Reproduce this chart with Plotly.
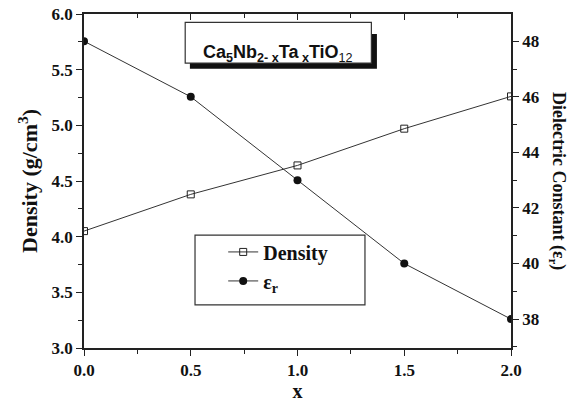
import plotly.graph_objects as go

x_vals = [0.0, 0.5, 1.0, 1.5, 2.0]
density = [4.05, 4.38, 4.64, 4.97, 5.26]
epsilon_r = [48, 46, 43, 40, 38]

x_ticks = [0.0, 0.5, 1.0, 1.5, 2.0]
y_ticks = [3.0, 3.5, 4.0, 4.5, 5.0, 5.5, 6.0]
y2_ticks = [38, 40, 42, 44, 46, 48]

SERIF = "Liberation Serif, Times New Roman, serif"
SANS = "Liberation Sans, Arial, sans-serif"
INK = "#111111"

fig = go.Figure()
fig.add_trace(go.Scatter(
    x=x_vals, y=density, name="<b>Density</b>", mode="lines+markers",
    line=dict(color="#333333", width=1),
    marker=dict(symbol="square-open", size=7, color="#222222", line=dict(width=1)),
))
fig.add_trace(go.Scatter(
    x=x_vals, y=epsilon_r, name="<b>ε<sub>r</sub></b>", mode="lines+markers", yaxis="y2",
    line=dict(color="#333333", width=1),
    marker=dict(symbol="circle", size=8, color=INK),
))
# dummy trace so the top axis is drawn
fig.add_trace(go.Scatter(x=[None], y=[None], xaxis="x2", showlegend=False, hoverinfo="skip"))

axis_common = dict(showline=True, linecolor="#222222", linewidth=1.5, showgrid=False,
                   zeroline=False, automargin=False, ticklabeloverflow="allow",
                   tickfont=dict(family=SERIF, size=17, color=INK),
                   ticklen=6, tickwidth=1.2, tickcolor="#222222")

def bold(vals, fmt):
    return ["<b>" + fmt.format(v) + "</b>" for v in vals]

# page has an 8px body margin; figure is sized/margined to compensate
fig.update_layout(
    width=575, height=394,
    margin=dict(l=76, r=72, t=6, b=54),
    paper_bgcolor="white", plot_bgcolor="white",
    showlegend=True,
    legend=dict(x=0.326, y=0.346, xanchor="left", yanchor="top",
                borderwidth=0, bgcolor="rgba(0,0,0,0)",
                font=dict(family=SERIF, size=20, color=INK),
                tracegroupgap=0),
    xaxis=dict(range=[0, 2], tickvals=x_ticks, ticktext=bold(x_ticks, "{:.1f}"),
               ticks="outside", minor=dict(dtick=0.25, ticks="outside", ticklen=4, tickcolor="#222222"),
               title=dict(text="<b>x</b>", font=dict(family=SERIF, size=20, color=INK), standoff=4),
               **axis_common),
    xaxis2=dict(range=[0, 2], overlaying="x", side="top", showticklabels=False,
                tickvals=x_ticks, ticks="inside",
                minor=dict(dtick=0.25, ticks="inside", ticklen=4, tickcolor="#222222"),
                **axis_common),
    yaxis=dict(range=[3.0, 6.0], tickvals=y_ticks, ticktext=bold(y_ticks, "{:.1f}"),
               ticks="outside", minor=dict(dtick=0.25, tick0=0, ticks="outside", ticklen=4, tickcolor="#222222"),
               title=dict(text="<b>Density (g/cm<sup>3</sup>)</b>", font=dict(family=SERIF, size=22, color=INK), standoff=8),
               **axis_common),
    yaxis2=dict(range=[36.96, 48.98], overlaying="y", side="right",
                tickvals=y2_ticks, ticktext=bold(y2_ticks, "{}"),
                ticks="outside", minor=dict(dtick=1, tick0=0, ticks="outside", ticklen=4, tickcolor="#222222"),
                **axis_common),
)

# right axis title (reads top-to-bottom)
fig.add_annotation(x=1.0, xref="paper", xanchor="center", xshift=47, y=0.5, yref="paper",
                   text="<b>Dielectric Constant (ε<sub>r</sub>)</b>", textangle=90, showarrow=False,
                   font=dict(family=SERIF, size=18, color=INK))

# legend frame
fig.add_shape(type="rect", xref="paper", yref="paper", x0=0.26, x1=0.658, y0=0.129, y1=0.338,
              fillcolor="white", line=dict(color="#333333", width=1.2), layer="below")

# formula box with drop shadow
fig.add_shape(type="rect", xref="paper", yref="paper", x0=0.248, x1=0.686, y0=0.836, y1=0.94,
              fillcolor=INK, line=dict(width=0), layer="above")
fig.add_shape(type="rect", xref="paper", yref="paper", x0=0.237, x1=0.673, y0=0.853, y1=0.975,
              fillcolor="white", line=dict(color="#333333", width=1.2), layer="above")
fig.add_annotation(x=0.455, xref="paper", y=0.922, yref="paper", showarrow=False,
                   text="<b>Ca<sub>5</sub>Nb<sub>2- x</sub>Ta<sub> x</sub>TiO</b><sub>12</sub>",
                   font=dict(family=SANS, size=18, color=INK))

fig.write_html("out.html")
